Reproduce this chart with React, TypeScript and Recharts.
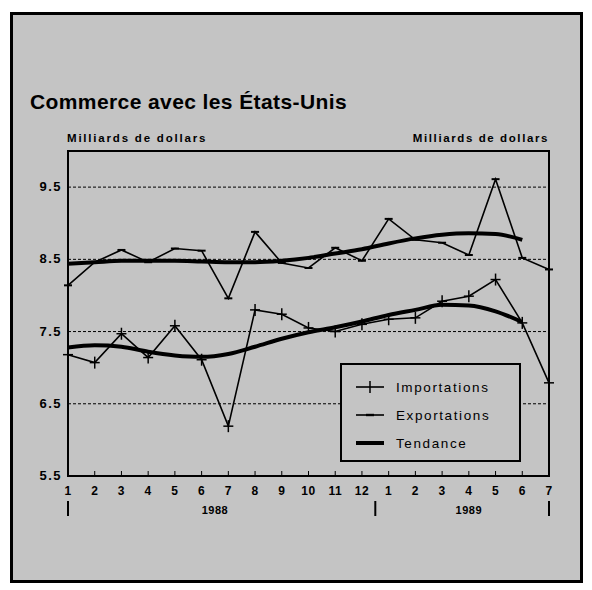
import React from 'react';
import { LineChart, Line, XAxis, YAxis, CartesianGrid, ReferenceArea } from 'recharts';

const months = ['1','2','3','4','5','6','7','8','9','10','11','12','1','2','3','4','5','6','7'];
const importations = [7.18, 7.07, 7.47, 7.14, 7.58, 7.11, 6.19, 7.80, 7.74, 7.55, 7.50, 7.60, 7.67, 7.69, 7.92, 7.99, 8.22, 7.62, 6.79];
const exportations = [8.14, 8.46, 8.63, 8.46, 8.65, 8.62, 7.96, 8.88, 8.45, 8.38, 8.66, 8.48, 9.06, 8.77, 8.73, 8.56, 9.61, 8.52, 8.36];
const tendanceImp = [7.28, 7.31, 7.29, 7.22, 7.17, 7.15, 7.19, 7.29, 7.40, 7.49, 7.56, 7.64, 7.73, 7.80, 7.87, 7.86, 7.78, 7.63, null];
const tendanceExp = [8.44, 8.46, 8.48, 8.48, 8.48, 8.47, 8.46, 8.46, 8.48, 8.52, 8.58, 8.64, 8.72, 8.79, 8.84, 8.86, 8.85, 8.77, null];
const yTicks = [5.5, 6.5, 7.5, 8.5, 9.5];
const years = [{ pos: 5.5, label: '1988' }, { pos: 15, label: '1989' }];
const separators = [0, 11.5, 18];

const data = months.map((m, i) => ({
  idx: i,
  month: m,
  imp: importations[i],
  exp: exportations[i],
  tImp: tendanceImp[i],
  tExp: tendanceExp[i],
}));

const FONT = '"Liberation Sans", Arial, Helvetica, sans-serif';

const ImpDot = (props: any) => {
  const { cx, cy, index } = props;
  if (cx == null || cy == null) return <g key={'i' + index} />;
  return (
    <g key={'i' + index}>
      <line x1={cx - 5} x2={cx + 5} y1={cy} y2={cy} stroke="#000" strokeWidth={1.5} />
      <line x1={cx} x2={cx} y1={cy - 6} y2={cy + 6} stroke="#000" strokeWidth={1.5} />
    </g>
  );
};

const ExpDot = (props: any) => {
  const { cx, cy, index } = props;
  if (cx == null || cy == null) return <g key={'e' + index} />;
  return <line key={'e' + index} x1={cx - 4} x2={cx + 4} y1={cy} y2={cy} stroke="#000" strokeWidth={2} />;
};

const MonthTick = (props: any) => {
  const { x, y, payload } = props;
  const label = months[payload.value];
  return (
    <g>
      <line x1={x} x2={x} y1={y - 5} y2={y} stroke="#000" strokeWidth={1} />
      <text x={x} y={y + 19} textAnchor="middle" fontFamily={FONT} fontSize={12} fontWeight="bold" fill="#000" letterSpacing={0.5}>
        {label}
      </text>
    </g>
  );
};

const YearTick = (props: any) => {
  const { x, y, payload } = props;
  const yr = years.find((t) => t.pos === payload.value);
  if (yr) {
    return (
      <text x={x} y={y + 14} textAnchor="middle" fontFamily={FONT} fontSize={11} fontWeight="bold" fill="#000" letterSpacing={0.5}>
        {yr.label}
      </text>
    );
  }
  return <line x1={x} x2={x} y1={y + 1} y2={y + 16} stroke="#000" strokeWidth={2} />;
};

const YTickL = (props: any) => {
  const { x, y, payload } = props;
  return (
    <text x={x} y={y} dy={4} textAnchor="end" fontFamily={FONT} fontSize={13} fontWeight="bold" fill="#000" letterSpacing={1.5}>
      {payload.value.toFixed(1)}
    </text>
  );
};

const YTickR = (props: any) => {
  const { x, y, payload } = props;
  return (
    <text x={x} y={y} dy={4} textAnchor="start" fontFamily={FONT} fontSize={13} fontWeight="bold" fill="#000" letterSpacing={1.5}>
      {payload.value.toFixed(1)}
    </text>
  );
};

const legendItems = [
  { label: 'Importations', kind: 'imp' },
  { label: 'Exportations', kind: 'exp' },
  { label: 'Tendance', kind: 'trend' },
];

export default function App() {
  return (
    <div style={{ position: 'absolute', left: 0, top: 0, width: 592, height: 590, background: '#fff', fontFamily: FONT }}>
      <div
        style={{
          position: 'absolute', left: 10, top: 12, width: 573, height: 571,
          border: '3px solid #000', boxSizing: 'border-box', background: '#c4c4c4',
        }}
      />
      <div style={{ position: 'absolute', left: 30, top: 89, fontSize: 21, fontWeight: 'bold', lineHeight: '26px', letterSpacing: 0.4, color: '#000', whiteSpace: 'nowrap' }}>
        Commerce avec les États-Unis
      </div>
      <div style={{ position: 'absolute', left: 67, top: 131, fontSize: 11.5, fontWeight: 'bold', lineHeight: '14px', letterSpacing: 1.8, color: '#000', whiteSpace: 'nowrap' }}>
        Milliards de dollars
      </div>
      <div style={{ position: 'absolute', right: 43, top: 131, fontSize: 11.5, fontWeight: 'bold', lineHeight: '14px', letterSpacing: 1.6, color: '#000', whiteSpace: 'nowrap' }}>
        Milliards de dollars
      </div>
      <div style={{ position: 'absolute', left: 0, top: 0 }}>
        <LineChart width={592} height={590} data={data} margin={{ top: 151, right: 3, bottom: 60, left: 8 }}>
          <CartesianGrid yAxisId="l" vertical={false} stroke="#000" strokeWidth={1} strokeDasharray="3 2" />
          <XAxis
            dataKey="idx"
            type="number"
            domain={[0, 18]}
            ticks={months.map((_, i) => i)}
            interval={0}
            height={24}
            tickSize={0}
            tickMargin={0}
            tickLine={false}
            axisLine={{ stroke: '#000', strokeWidth: 2 }}
            tick={<MonthTick />}
          />
          <XAxis
            xAxisId="yr"
            dataKey="idx"
            type="number"
            domain={[0, 18]}
            ticks={[...separators, ...years.map((y) => y.pos)].sort((a, b) => a - b)}
            interval={0}
            height={30}
            tickSize={0}
            tickMargin={0}
            tickLine={false}
            axisLine={false}
            tick={<YearTick />}
          />
          <YAxis
            yAxisId="l"
            domain={[5.5, 10]}
            ticks={yTicks}
            interval={0}
            width={60}
            tickSize={0}
            tickMargin={6}
            tickLine={false}
            axisLine={{ stroke: '#000', strokeWidth: 2 }}
            tick={<YTickL />}
          />
          <YAxis
            yAxisId="r"
            orientation="right"
            domain={[5.5, 10]}
            ticks={yTicks}
            interval={0}
            width={40}
            tickSize={0}
            tickMargin={5}
            tickLine={false}
            axisLine={{ stroke: '#000', strokeWidth: 2 }}
            tick={<YTickR />}
          />
          <ReferenceArea yAxisId="l" x1={0} x2={18} y1={5.5} y2={10} fill="none" stroke="#000" strokeWidth={2} ifOverflow="visible" />
          <Line yAxisId="l" dataKey="tExp" type="monotone" stroke="#000" strokeWidth={4} dot={false} isAnimationActive={false} connectNulls={false} />
          <Line yAxisId="l" dataKey="tImp" type="monotone" stroke="#000" strokeWidth={4} dot={false} isAnimationActive={false} connectNulls={false} />
          <Line yAxisId="l" dataKey="exp" type="linear" stroke="#000" strokeWidth={1.6} dot={<ExpDot />} isAnimationActive={false} />
          <Line yAxisId="l" dataKey="imp" type="linear" stroke="#000" strokeWidth={1.6} dot={<ImpDot />} isAnimationActive={false} />
        </LineChart>
      </div>
      <div
        style={{
          position: 'absolute', left: 340, top: 363, width: 181, height: 99,
          border: '2px solid #000', boxSizing: 'border-box', background: '#c4c4c4',
        }}
      >
        {legendItems.map((it, i) => (
          <div key={it.label} style={{ position: 'absolute', left: 12, top: 14 + i * 28, height: 16, display: 'flex', alignItems: 'center' }}>
            <svg width={32} height={16} style={{ display: 'block' }}>
              <line x1={2} x2={30} y1={8} y2={8} stroke="#000" strokeWidth={it.kind === 'trend' ? 4 : 1.6} />
              {it.kind === 'imp' && <line x1={16} x2={16} y1={2} y2={14} stroke="#000" strokeWidth={1.5} />}
              {it.kind === 'exp' && <line x1={12} x2={20} y1={8} y2={8} stroke="#000" strokeWidth={2.4} />}
            </svg>
            <span style={{ marginLeft: 10, fontSize: 13.5, letterSpacing: 1.6, color: '#000', whiteSpace: 'nowrap' }}>{it.label}</span>
          </div>
        ))}
      </div>
    </div>
  );
}
